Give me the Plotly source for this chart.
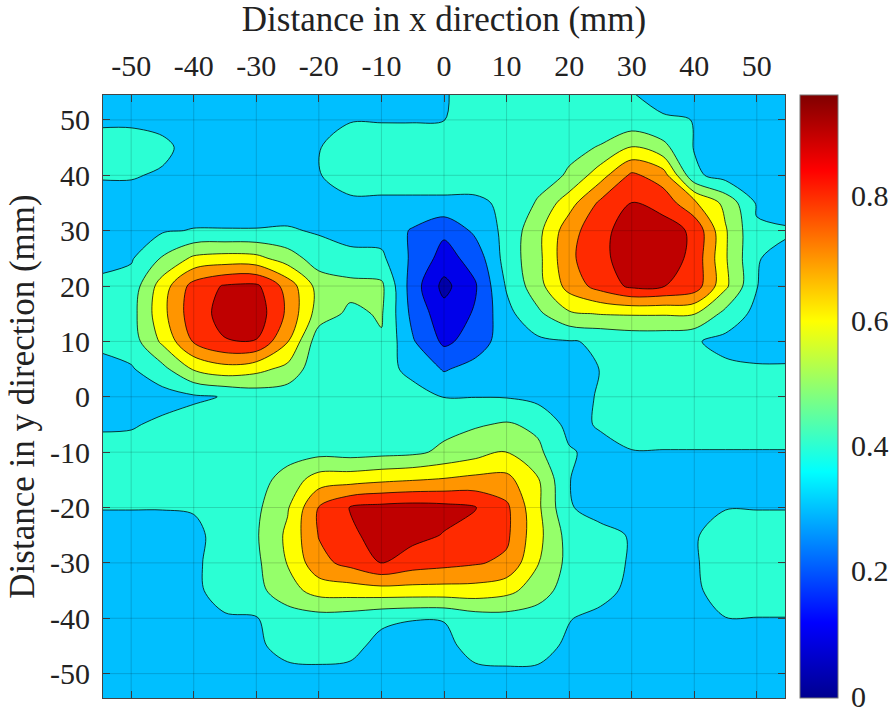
import plotly.graph_objects as go

# ---------------- data ----------------
x_mm = [-55, -50, -45, -40, -35, -30, -25, -20, -15, -10, -5, 0,
        5, 10, 15, 20, 25, 30, 35, 40, 45, 50, 55]
y_mm_top_down = [55, 50, 45, 40, 35, 30, 25, 20, 15, 10, 5, 0,
                 -5, -10, -15, -20, -25, -30, -35, -40, -45, -50, -55]

row_y55 = [0.35, 0.35, 0.35, 0.35, 0.35, 0.35, 0.35, 0.35, 0.35, 0.35, 0.35, 0.39, 0.45, 0.45, 0.45, 0.45, 0.45, 0.402, 0.35, 0.35, 0.35, 0.35, 0.35]
row_y50 = [0.38, 0.38, 0.36, 0.35, 0.35, 0.35, 0.35, 0.38, 0.393, 0.393, 0.393, 0.398, 0.46, 0.46, 0.46, 0.46, 0.46, 0.43, 0.415, 0.398, 0.35, 0.35, 0.35]
row_y45 = [0.45, 0.45, 0.43, 0.35, 0.35, 0.35, 0.35, 0.395, 0.46, 0.46, 0.46, 0.46, 0.46, 0.46, 0.47, 0.48, 0.505, 0.605, 0.53, 0.395, 0.35, 0.35, 0.35]
row_y40 = [0.41, 0.41, 0.385, 0.35, 0.35, 0.35, 0.35, 0.395, 0.45, 0.45, 0.45, 0.45, 0.45, 0.45, 0.46, 0.51, 0.66, 0.82, 0.75, 0.42, 0.36, 0.35, 0.35]
row_y35 = [0.35, 0.35, 0.35, 0.35, 0.35, 0.35, 0.35, 0.37, 0.38, 0.38, 0.38, 0.38, 0.38, 0.42, 0.51, 0.66, 0.82, 0.905, 0.86, 0.72, 0.57, 0.39, 0.35]
row_y30 = [0.35, 0.36, 0.39, 0.405, 0.405, 0.405, 0.41, 0.39, 0.36, 0.36, 0.29, 0.22, 0.32, 0.43, 0.57, 0.76, 0.87, 0.95, 0.95, 0.88, 0.61, 0.41, 0.41]
row_y25 = [0.36, 0.39, 0.51, 0.62, 0.64, 0.63, 0.55, 0.45, 0.43, 0.42, 0.28, 0.16, 0.24, 0.44, 0.57, 0.78, 0.87, 0.96, 0.96, 0.87, 0.61, 0.405, 0.37]
row_y20 = [0.43, 0.44, 0.65, 0.84, 0.91, 0.92, 0.76, 0.56, 0.53, 0.52, 0.25, 0.07, 0.19, 0.41, 0.56, 0.74, 0.84, 0.92, 0.905, 0.86, 0.62, 0.402, 0.36]
row_y15 = [0.44, 0.46, 0.67, 0.86, 0.93, 0.96, 0.78, 0.55, 0.48, 0.51, 0.27, 0.14, 0.21, 0.37, 0.48, 0.585, 0.605, 0.61, 0.61, 0.605, 0.47, 0.37, 0.35]
row_y10 = [0.42, 0.45, 0.62, 0.81, 0.895, 0.895, 0.705, 0.44, 0.44, 0.49, 0.31, 0.18, 0.24, 0.36, 0.38, 0.395, 0.41, 0.43, 0.43, 0.41, 0.37, 0.36, 0.36]
row_y05 = [0.37, 0.39, 0.47, 0.61, 0.66, 0.63, 0.57, 0.43, 0.43, 0.42, 0.385, 0.29, 0.34, 0.36, 0.36, 0.36, 0.402, 0.45, 0.45, 0.44, 0.42, 0.41, 0.41]
row_y00 = [0.36, 0.36, 0.36, 0.385, 0.405, 0.44, 0.44, 0.45, 0.45, 0.45, 0.42, 0.398, 0.398, 0.395, 0.37, 0.36, 0.41, 0.45, 0.45, 0.45, 0.45, 0.45, 0.45]
row_ym05 = [0.385, 0.39, 0.42, 0.44, 0.44, 0.44, 0.44, 0.44, 0.44, 0.45, 0.46, 0.47, 0.49, 0.51, 0.48, 0.37, 0.41, 0.45, 0.45, 0.45, 0.45, 0.45, 0.45]
row_ym10 = [0.44, 0.44, 0.44, 0.44, 0.44, 0.45, 0.46, 0.47, 0.46, 0.47, 0.48, 0.52, 0.56, 0.605, 0.52, 0.41, 0.37, 0.395, 0.395, 0.395, 0.395, 0.395, 0.395]
row_ym15 = [0.45, 0.45, 0.45, 0.45, 0.45, 0.46, 0.54, 0.65, 0.66, 0.68, 0.695, 0.71, 0.73, 0.73, 0.61, 0.402, 0.36, 0.36, 0.36, 0.36, 0.36, 0.36, 0.36]
row_ym20 = [0.405, 0.405, 0.405, 0.41, 0.42, 0.48, 0.59, 0.805, 0.905, 0.93, 0.94, 0.93, 0.905, 0.82, 0.62, 0.41, 0.35, 0.35, 0.35, 0.38, 0.395, 0.395, 0.395]
row_ym25 = [0.35, 0.35, 0.35, 0.37, 0.45, 0.49, 0.62, 0.805, 0.88, 0.94, 0.93, 0.895, 0.86, 0.82, 0.63, 0.46, 0.44, 0.39, 0.36, 0.39, 0.45, 0.45, 0.45]
row_ym30 = [0.35, 0.35, 0.35, 0.38, 0.45, 0.48, 0.605, 0.77, 0.83, 0.902, 0.85, 0.83, 0.81, 0.78, 0.605, 0.47, 0.44, 0.39, 0.36, 0.39, 0.45, 0.45, 0.45]
row_ym35 = [0.35, 0.35, 0.35, 0.38, 0.44, 0.47, 0.56, 0.64, 0.65, 0.66, 0.66, 0.66, 0.66, 0.63, 0.55, 0.45, 0.44, 0.37, 0.35, 0.38, 0.45, 0.45, 0.45]
row_ym40 = [0.35, 0.35, 0.35, 0.35, 0.39, 0.395, 0.45, 0.46, 0.45, 0.42, 0.405, 0.405, 0.45, 0.46, 0.45, 0.405, 0.37, 0.36, 0.35, 0.36, 0.398, 0.398, 0.398]
row_ym45 = [0.35, 0.35, 0.35, 0.35, 0.35, 0.38, 0.44, 0.44, 0.43, 0.37, 0.35, 0.37, 0.44, 0.44, 0.44, 0.38, 0.35, 0.35, 0.35, 0.35, 0.35, 0.35, 0.35]
row_ym50 = [0.35, 0.35, 0.35, 0.35, 0.35, 0.36, 0.37, 0.38, 0.375, 0.35, 0.35, 0.35, 0.375, 0.385, 0.38, 0.36, 0.35, 0.35, 0.35, 0.35, 0.35, 0.35, 0.35]
row_ym55 = [0.35] * 23

z_top_down = [row_y55, row_y50, row_y45, row_y40, row_y35, row_y30, row_y25,
              row_y20, row_y15, row_y10, row_y05, row_y00, row_ym05, row_ym10,
              row_ym15, row_ym20, row_ym25, row_ym30, row_ym35, row_ym40,
              row_ym45, row_ym50, row_ym55]

x_ticks = [-50, -40, -30, -20, -10, 0, 10, 20, 30, 40, 50]
y_ticks = [-50, -40, -30, -20, -10, 0, 10, 20, 30, 40, 50]
cb_ticks = [0, 0.2, 0.4, 0.6, 0.8]
levels_start, levels_end, levels_step = 0.1, 0.9, 0.1
c_min, c_max = 0.0, 0.96

# ---------------- styling ----------------
FONT = "Liberation Serif, Times New Roman, serif"


def jet(t):
    t = min(max(t, 0.0), 1.0)
    r = min(max(1.5 - abs(4 * t - 3), 0), 1)
    g = min(max(1.5 - abs(4 * t - 2), 0), 1)
    b = min(max(1.5 - abs(4 * t - 1), 0), 1)
    return "rgb(%d,%d,%d)" % (round(r * 255), round(g * 255), round(b * 255))


# band colours like MATLAB contourf: colour of lower level of each band
n_levels = int(round((levels_end - levels_start) / levels_step)) + 1
band_lower = [0.04] + [levels_start + k * levels_step for k in range(n_levels)]
band_scale = [[k / (len(band_lower) - 1), jet(v / c_max)] for k, v in enumerate(band_lower)]

jet_scale = [[0.0, "rgb(0,0,143)"], [0.125, "rgb(0,0,255)"], [0.375, "rgb(0,255,255)"],
             [0.625, "rgb(255,255,0)"], [0.875, "rgb(255,0,0)"], [1.0, "rgb(128,0,0)"]]

y_up = y_mm_top_down[::-1]
z_up = z_top_down[::-1]

fig = go.Figure()
fig.add_trace(go.Contour(
    x=x_mm, y=y_up, z=z_up,
    contours=dict(start=levels_start, end=levels_end, size=levels_step,
                  coloring="fill", showlines=True),
    line=dict(color="rgba(0,0,0,0.85)", width=0.9, smoothing=0.9),
    colorscale=band_scale, showscale=False, hoverinfo="skip",
))

fig.add_trace(go.Scatter(
    x=[None], y=[None], mode="markers", showlegend=False, hoverinfo="skip",
    marker=dict(color=[c_min], cmin=c_min - 0.003, cmax=c_max, colorscale=jet_scale,
                showscale=True,
                colorbar=dict(thickness=38, thicknessmode="pixels",
                              len=1, lenmode="fraction", y=0.5, yanchor="middle",
                              ypad=0, x=1.022, xanchor="left", xpad=0,
                              tickvals=cb_ticks, ticktext=[str(v) for v in cb_ticks],
                              tickfont=dict(family=FONT, size=30, color="#222"),
                              ticks="outside", ticklen=7, tickcolor="rgba(0,0,0,0)",
                              outlinewidth=1, outlinecolor="#777")),
))

# grid lines drawn over the filled contours (MATLAB layer = top)
for v in x_ticks:
    fig.add_vline(x=v, line=dict(color="rgba(0,0,0,0.16)", width=1), layer="above")
for v in y_ticks:
    fig.add_hline(y=v, line=dict(color="rgba(0,0,0,0.16)", width=1), layer="above")

axis_common = dict(showgrid=False, zeroline=False, showline=True, mirror="ticks",
                   linecolor="#444", linewidth=1, ticks="inside", ticklen=7,
                   tickcolor="#444",
                   tickfont=dict(family=FONT, size=30, color="#222"))

fig.update_xaxes(range=[-54.5, 54.5], side="top", tickvals=x_ticks,
                 ticktext=[str(v) for v in x_ticks], ticklabelstandoff=6,
                 title=dict(text="Distance in x direction (mm)",
                            font=dict(family=FONT, size=35, color="#222"), standoff=8),
                 automargin=False, **axis_common)
fig.update_yaxes(range=[-54.4, 54.5], tickvals=y_ticks,
                 ticktext=[str(v) for v in y_ticks], ticklabelstandoff=6,
                 title=dict(text="Distance in y direction (mm)",
                            font=dict(family=FONT, size=35, color="#222"), standoff=4),
                 automargin=False, **axis_common)

fig.update_layout(width=892, height=713,
                  margin=dict(l=103, r=107, t=95, b=15, pad=0, autoexpand=False),
                  paper_bgcolor="white", plot_bgcolor="white",
                  showlegend=False)

fig.write_html("out.html")
